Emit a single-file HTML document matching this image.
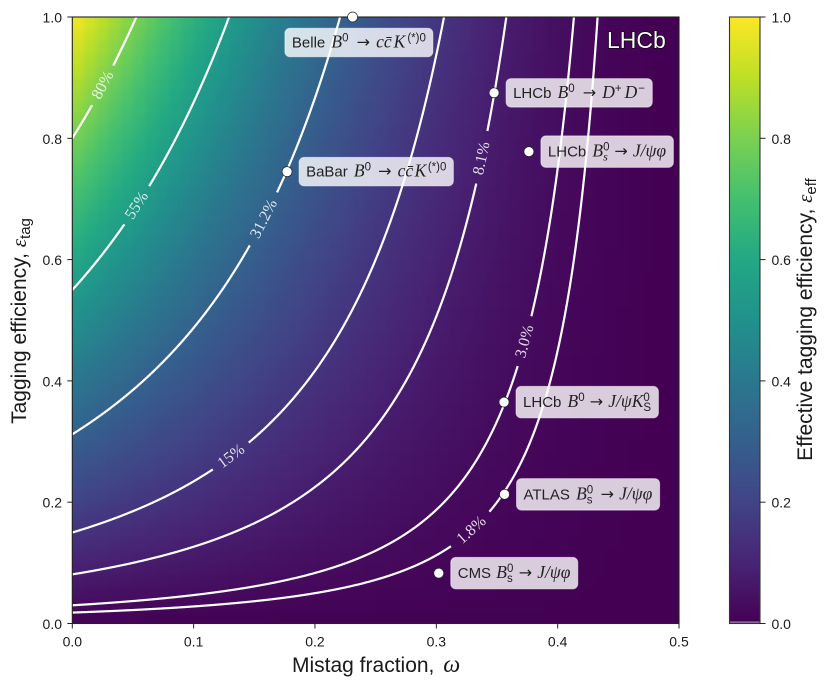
<!DOCTYPE html>
<html lang="en">
<head>
<meta charset="utf-8">
<title>Effective tagging efficiency</title>
<style>
html,body{margin:0;padding:0;background:#fff;width:830px;height:688px;overflow:hidden}
svg{display:block}
text{font-family:"Liberation Sans",sans-serif;fill:#1a1a1a}
.tick{font-size:14px}
.axis{font-size:21px}
.wp{font-size:15px;fill:#222}
.m{font-family:"Liberation Serif",serif;font-style:italic;font-size:17.5px}
.ar{font-family:"DejaVu Sans",sans-serif;font-size:16px}
.sm{font-size:11.5px}
.sm.m{font-size:12px}
.cl{font-family:"Liberation Serif",serif;font-size:16px;fill:#fff;fill-opacity:.85}
</style>
</head>
<body>
<svg id="chart" xmlns="http://www.w3.org/2000/svg" width="830" height="688" viewBox="0 0 830 688">
  <defs>
    <clipPath id="plot-clip"><rect x="72.3" y="17" width="606.7" height="606.5"/></clipPath>
    <filter id="smooth" filterUnits="userSpaceOnUse" x="20" y="-30" width="710" height="710" color-interpolation-filters="sRGB"><feGaussianBlur stdDeviation="3"/></filter>
    <linearGradient id="cbar-gradient" x1="0" y1="1" x2="0" y2="0"></linearGradient>
  </defs>
  <g clip-path="url(#plot-clip)">
    <g id="heat" filter="url(#smooth)"></g>
    <g id="contours"></g>
  </g>
  <g id="contour-labels"></g>
  <rect x="72.3" y="17" width="606.7" height="606.5" fill="none" stroke="#222" stroke-width="1.1"/>
  <g id="xticks"></g>
  <g id="yticks"></g>
  <text x="292" y="672" class="axis">Mistag fraction, <tspan class="m" dx="3" style="font-size:24px">ω</tspan></text>
  <text transform="translate(26,321) rotate(-90)" text-anchor="middle" class="axis">Tagging efficiency, <tspan class="m" style="font-size:21px">ε</tspan><tspan font-size="15" dy="4">tag</tspan></text>
  <g id="points"></g>
  <text x="607" y="48" font-size="23" fill="#fff" stroke="#000" stroke-width="1.2" paint-order="stroke" style="fill:#fff">LHCb</text>
  <rect x="729.5" y="17" width="30.5" height="606.5" fill="url(#cbar-gradient)"/>
  <rect x="730" y="621.6" width="29.5" height="1" fill="#b9a8bd"/>
  <rect x="729.5" y="17" width="30.5" height="606.5" fill="none" stroke="#333" stroke-width="1.1"/>
  <g id="cticks"></g>
  <text transform="translate(812,319.5) rotate(-90)" text-anchor="middle" class="axis">Effective tagging efficiency, <tspan class="m" style="font-size:21px">ε</tspan><tspan font-size="15" dy="4">eff</tspan></text>
</svg>
<script>
const omegaCols = [0.005,0.015,0.025,0.035,0.045,0.055,0.065,0.075,0.085,0.095,0.105,0.115,0.125,0.135,0.145,0.155,0.165,0.175,0.185,0.195,0.205,0.215,0.225,0.235,0.245,0.255,0.265,0.275,0.285,0.295,0.305,0.315,0.325,0.335,0.345,0.355,0.365,0.375,0.385,0.395,0.405,0.415,0.425,0.435,0.445,0.455,0.465,0.475,0.485,0.495];
const dilutionCols = [0.9801,0.9409,0.9025,0.8649,0.8281,0.7921,0.7569,0.7225,0.6889,0.6561,0.6241,0.5929,0.5625,0.5329,0.5041,0.4761,0.4489,0.4225,0.3969,0.3721,0.3481,0.3249,0.3025,0.2809,0.2601,0.2401,0.2209,0.2025,0.1849,0.1681,0.1521,0.1369,0.1225,0.1089,0.0961,0.0841,0.0729,0.0625,0.0529,0.0441,0.0361,0.0289,0.0225,0.0169,0.0121,0.0081,0.0049,0.0025,0.0009,0.0001];
const tagRows = [0.01,0.03,0.05,0.07,0.09,0.11,0.13,0.15,0.17,0.19,0.21,0.23,0.25,0.27,0.29,0.31,0.33,0.35,0.37,0.39,0.41,0.43,0.45,0.47,0.49,0.51,0.53,0.55,0.57,0.59,0.61,0.63,0.65,0.67,0.69,0.71,0.73,0.75,0.77,0.79,0.81,0.83,0.85,0.87,0.89,0.91,0.93,0.95,0.97,0.99];
const contourLevels = [0.8,0.55,0.312,0.15,0.081,0.03,0.018];
const contourLabels = ["80%","55%","31.2%","15%","8.1%","3.0%","1.8%"];
const contourLabelOmegas = [0.0253,0.0533,0.158,0.131,0.3375,0.373,0.329];
const pointOmegas = [0.231,0.177,0.3476,0.3763,0.3558,0.3562,0.302];
const pointTags = [1.0,0.745,0.875,0.778,0.365,0.213,0.083];
const pointLabels = [
 'Belle <tspan class="m" dx="2">B</tspan><tspan class="sm" dy="-6">0</tspan><tspan class="ar" dx="3" dy="6"> → </tspan><tspan class="m" dx="1">cc̄</tspan><tspan class="m" dx="2">K</tspan><tspan class="sm" dx="2" dy="-6">(*)0</tspan>',
 'BaBar <tspan class="m" dx="2">B</tspan><tspan class="sm" dy="-6">0</tspan><tspan class="ar" dx="2" dy="6"> → </tspan><tspan class="m" dx="1">cc̄</tspan><tspan class="m" dx="1.5">K</tspan><tspan class="sm" dx="1.5" dy="-6">(*)0</tspan>',
 'LHCb <tspan class="m" dx="2">B</tspan><tspan class="sm" dy="-6">0</tspan><tspan class="ar" dx="3" dy="6"> → </tspan><tspan class="m" dx="1">D</tspan><tspan class="sm" dy="-6">+</tspan><tspan class="m" dy="6" dx="3">D</tspan><tspan class="sm" dx="1" dy="-6">−</tspan>',
 'LHCb <tspan class="m" dx="2">B</tspan><tspan class="sm" dy="-6">0</tspan><tspan class="sm m" dx="-6.4" dy="10">s</tspan><tspan class="ar" dx="1.5" dy="-4"> → </tspan><tspan class="m">J/ψφ</tspan>',
 'LHCb <tspan class="m" dx="2">B</tspan><tspan class="sm" dy="-6">0</tspan><tspan class="ar" dy="6"> → </tspan><tspan class="m">J/ψK</tspan><tspan class="sm" dy="-6">0</tspan><tspan class="sm" dx="-6.4" dy="10">S</tspan>',
 'ATLAS <tspan class="m" dx="2">B</tspan><tspan class="sm" dy="-6">0</tspan><tspan class="sm" dx="-6.4" dy="10">s</tspan><tspan class="ar" dx="3" dy="-4"> → </tspan><tspan class="m">J/ψφ</tspan>',
 'CMS <tspan class="m" dx="1">B</tspan><tspan class="sm" dy="-6">0</tspan><tspan class="sm" dx="-6.4" dy="10">s</tspan><tspan class="ar" dx="1" dy="-4"> → </tspan><tspan class="m">J/ψφ</tspan>'
];
const xTickValues = [0,0.1,0.2,0.3,0.4,0.5];
const xTickLabels = ["0.0","0.1","0.2","0.3","0.4","0.5"];
const yTickValues = [0,0.2,0.4,0.6,0.8,1.0];
const yTickLabels = ["0.0","0.2","0.4","0.6","0.8","1.0"];
const viridisStops = [[68,1,84],[72,36,117],[65,68,135],[53,95,141],[42,120,142],[33,145,140],[34,168,132],[68,191,112],[122,209,81],[189,223,38],[253,231,37]];

const NS = "http://www.w3.org/2000/svg";
const X0 = 72.3, X1 = 679, Y0 = 623.5, Y1 = 17;
function xs(w){ return X0 + (w / 0.5) * (X1 - X0); }
function ys(t){ return Y0 - t * (Y0 - Y1); }
function viridis(v){
  const p = Math.max(0, Math.min(1, v)) * (viridisStops.length - 1);
  const i = Math.min(Math.floor(p), viridisStops.length - 2), f = p - i;
  const a = viridisStops[i], b = viridisStops[i + 1];
  return "rgb(" + [0,1,2].map(k => Math.round(a[k] + (b[k] - a[k]) * f)).join(",") + ")";
}
function mk(tag, attrs, parent){
  const el = document.createElementNS(NS, tag);
  for (const k in attrs) el.setAttribute(k, attrs[k]);
  parent.appendChild(el);
  return el;
}

/* heatmap */
const heat = document.getElementById("heat");
omegaCols.forEach((w, i) => {
  const half = (i + 1 < omegaCols.length ? omegaCols[i + 1] - w : w - omegaCols[i - 1]) / 2;
  let x = xs(w - half), x2 = xs(w + half) + 0.6;
  if (i === 0) x -= 40;
  if (i === omegaCols.length - 1) x2 += 40;
  tagRows.forEach((t, j) => {
    const h2 = (j + 1 < tagRows.length ? tagRows[j + 1] - t : t - tagRows[j - 1]) / 2;
    let yTop = ys(t + h2) - 0.6, yBot = ys(t - h2);
    if (j === 0) yBot += 40;
    if (j === tagRows.length - 1) yTop -= 40;
    const cell = mk("rect", {x: x, y: yTop, width: x2 - x, height: yBot - yTop, fill: viridis(dilutionCols[i] * t)}, heat);
    
    
  });
});

/* contours */
const contourG = document.getElementById("contours");
const labelG = document.getElementById("contour-labels");
contourLevels.forEach((level, idx) => {
  const text = contourLabels[idx];
  const lw = contourLabelOmegas[idx];
  const tagAt = w => level / Math.pow(1 - 2 * w, 2);
  const cx = xs(lw), cy = ys(tagAt(lw));
  const gap = 11.5 + 3.5 * text.length;
  let d = "", pen = false;
  for (let s = 0; s <= 1200; s++) {
    const w = 0.5 * s / 1200;
    if (w >= 0.4999) break;
    const t = tagAt(w);
    const px = xs(w), py = ys(t);
    if (Math.hypot(px - cx, py - cy) < gap) { pen = false; continue; }
    d += (pen ? "L" : "M") + px.toFixed(2) + " " + py.toFixed(2);
    pen = true;
    if (t > 1.02) break;
  }
  const line = mk("path", {d: d, fill: "none", stroke: "#fff", "stroke-width": 2.2}, contourG);
  
  
  const dx = xs(lw + 0.001) - xs(lw - 0.001), dy = ys(tagAt(lw + 0.001)) - ys(tagAt(lw - 0.001));
  const ang = Math.atan2(dy, dx) * 180 / Math.PI;
  const lab = mk("text", {class: "cl", "text-anchor": "middle", "dominant-baseline": "central", transform: "translate(" + cx + "," + cy + ") rotate(" + ang + ")"}, labelG);
  lab.textContent = text;
  
  
});

/* ticks */
const xtG = document.getElementById("xticks");
xTickValues.forEach((v, i) => {
  const tk = mk("line", {x1: xs(v), x2: xs(v), y1: Y0, y2: Y0 + 5, stroke: "#222", "stroke-width": 1}, xtG);
  
  
  const lb = mk("text", {x: xs(v), y: 646.5, class: "tick", "text-anchor": "middle"}, xtG);
  lb.textContent = xTickLabels[i];
  
  
});
const ytG = document.getElementById("yticks");
yTickValues.forEach((v, i) => {
  const tk = mk("line", {x1: X0 - 5, x2: X0, y1: ys(v), y2: ys(v), stroke: "#222", "stroke-width": 1}, ytG);
  
  
  const lb = mk("text", {x: 62, y: ys(v) + 5.5, class: "tick", "text-anchor": "end"}, ytG);
  lb.textContent = yTickLabels[i];
  
  
});
const ctG = document.getElementById("cticks");
yTickValues.forEach((v, i) => {
  const tk = mk("line", {x1: 760, x2: 765.5, y1: ys(v), y2: ys(v), stroke: "#222", "stroke-width": 1}, ctG);
  
  
  const lb = mk("text", {x: 771.5, y: ys(v) + 5.5, class: "tick"}, ctG);
  lb.textContent = yTickLabels[i];
  
  
});

/* colorbar gradient */
const grad = document.getElementById("cbar-gradient");
viridisStops.forEach((c, i) => {
  mk("stop", {offset: i / (viridisStops.length - 1), "stop-color": "rgb(" + c.join(",") + ")"}, grad);
});

/* working points */
const ptG = document.getElementById("points");
pointOmegas.forEach((w, i) => {
  const px = xs(w), py = ys(pointTags[i]);
  const group = mk("g", {}, ptG);
  
  
  const box = mk("rect", {rx: 5, ry: 5, fill: "#fff", "fill-opacity": 0.8, stroke: "#fff", "stroke-opacity": 0.5, "stroke-width": 1}, group);
  
  
  const onTop = pointTags[i] >= 1;
  const tx = onTop ? px - 60.7 : px + 19;
  const ty = onTop ? py + 30.5 : py + 5;
  const lab = mk("text", {class: "wp", x: tx, y: ty}, group);
  lab.innerHTML = pointLabels[i];
  
  
  const bb = lab.getBBox();
  const boxH = pointLabels[i].includes('dy="10"') ? 31.5 : 28.5;
  box.setAttribute("x", tx - 7);
  box.setAttribute("y", ty - 5 - boxH / 2);
  box.setAttribute("width", bb.width + 14);
  box.setAttribute("height", boxH);
  const dot = mk("circle", {cx: px, cy: py, r: 5, fill: "#fff", stroke: "#222", "stroke-width": 0.7}, group);
  
  
});
</script>
</body>
</html>
